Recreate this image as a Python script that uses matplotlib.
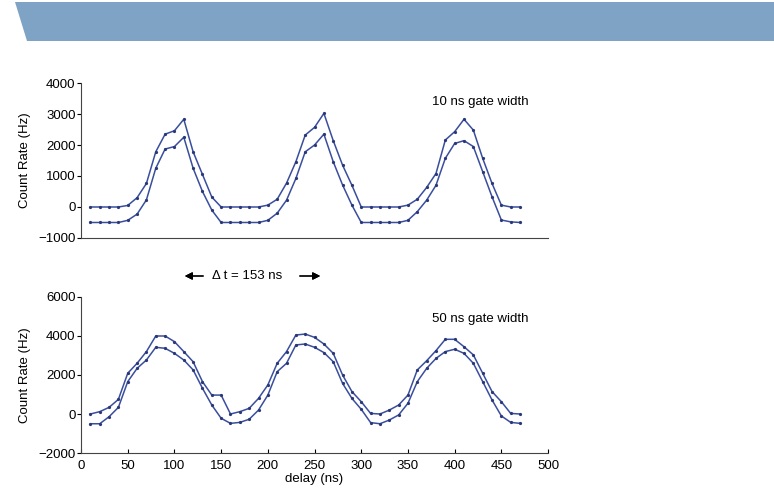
import numpy as np
import matplotlib.pyplot as plt
from matplotlib.patches import Polygon

plt.rcParams['font.family'] = ['Liberation Sans', 'DejaVu Sans']

# delay (ns), 10 ns steps
delay = list(range(10, 480, 10))

# 10 ns gate width
gate10_upper = [0, 0, 0, 0, 50, 300, 760, 1780, 2350, 2460, 2830, 1780, 1050, 320, 0,
                0, 0, 0, 0, 60, 250, 770, 1460, 2320, 2570, 3020, 2140, 1350, 700, 0,
                0, 0, 0, 0, 60, 250, 630, 1080, 2160, 2430, 2830, 2480, 1570, 760, 60,
                0, 0]
gate10_lower = [-500, -500, -500, -500, -430, -230, 230, 1250, 1870, 1950, 2250, 1250, 500, -100, -500,
                -500, -500, -500, -500, -430, -200, 220, 920, 1780, 2000, 2350, 1460, 710, 60, -500,
                -500, -500, -500, -500, -430, -150, 220, 700, 1570, 2050, 2140, 1950, 1140, 330, -420,
                -480, -500]

# 50 ns gate width
gate50_upper = [0, 120, 340, 750, 2090, 2600, 3200, 4000, 4000, 3710, 3200, 2680, 1660, 970, 970,
                0, 120, 290, 800, 1490, 2600, 3200, 4050, 4100, 3930, 3590, 3110, 2000, 1150, 630,
                30, 0, 200, 460, 970, 2260, 2730, 3250, 3830, 3830, 3450, 3030, 2090, 1150, 630,
                30, 0]
gate50_lower = [-500, -500, -140, 340, 1660, 2340, 2770, 3420, 3370, 3110, 2770, 2260, 1320, 460, -220,
                -480, -430, -270, 200, 970, 2170, 2600, 3540, 3590, 3420, 3150, 2680, 1570, 800, 240,
                -440, -500, -310, -50, 550, 1660, 2340, 2850, 3200, 3320, 3110, 2600, 1660, 720, -100,
                -430, -480]

line_color = '#3a4e9e'
dot_color = '#2a3878'

fig = plt.figure(figsize=(7.74, 4.9), dpi=100)

# header band
band = Polygon([(15 / 774, 1 - 2 / 490), (1, 1 - 2 / 490), (1, 1 - 41 / 490), (27 / 774, 1 - 41 / 490)],
               closed=True, transform=fig.transFigure, facecolor='#7fa3c4', edgecolor='none')
fig.patches.append(band)

ax1 = fig.add_axes([0.1047, 0.5143, 0.6034, 0.3163])
ax2 = fig.add_axes([0.1047, 0.0755, 0.6034, 0.3184])

for ax, up, lo in [(ax1, gate10_upper, gate10_lower), (ax2, gate50_upper, gate50_lower)]:
    for s in (up, lo):
        ax.plot(delay, s, color=line_color, lw=1.1, marker='o', ms=1.3,
                mfc=dot_color, mec=dot_color)
    ax.spines['top'].set_visible(False)
    ax.spines['right'].set_visible(False)
    ax.spines['left'].set_color('#444444')
    ax.spines['bottom'].set_color('#444444')
    ax.set_xlim(0, 500)
    ax.set_ylabel('Count Rate (Hz)', fontsize=9.5)
    ax.yaxis.set_label_coords(-0.108, 0.5)
    ax.tick_params(axis='y', direction='out', length=3, labelsize=9.5, pad=1)
    ax.tick_params(axis='x', direction='in', length=3, labelsize=9.5, pad=5)

ax1.set_ylim(-1000, 4000)
ax1.set_yticks([-1000, 0, 1000, 2000, 3000, 4000])
ax1.set_yticklabels(['\u22121000', '0', '1000', '2000', '3000', '4000'])
ax1.set_xticks([])
ax1.text(0.752, 0.855, '10 ns gate width', transform=ax1.transAxes, fontsize=9.5)

ax2.set_ylim(-2000, 6000)
ax2.set_yticks([-2000, 0, 2000, 4000, 6000])
ax2.set_yticklabels(['\u22122000', '0', '2000', '4000', '6000'])
ax2.set_xticks(range(0, 501, 50))
ax2.set_xlabel('delay (ns)', fontsize=9.5, labelpad=1)
ax2.text(0.752, 0.84, '50 ns gate width', transform=ax2.transAxes, fontsize=9.5)

# delta t annotation between panels
yy = 1 - 276 / 490
fig.text(247 / 774, yy, '\u0394 t = 153 ns', fontsize=9.5, ha='center', va='center')
fig.add_artist(plt.annotate('', xy=(182 / 774, yy), xytext=(206 / 774, yy), xycoords='figure fraction',
                            arrowprops=dict(arrowstyle='-|>', color='black', lw=0.9,
                                            mutation_scale=11)))
fig.add_artist(plt.annotate('', xy=(323 / 774, yy), xytext=(297 / 774, yy), xycoords='figure fraction',
                            arrowprops=dict(arrowstyle='-|>', color='black', lw=0.9,
                                            mutation_scale=11)))

fig.savefig('out.png', dpi=100)
